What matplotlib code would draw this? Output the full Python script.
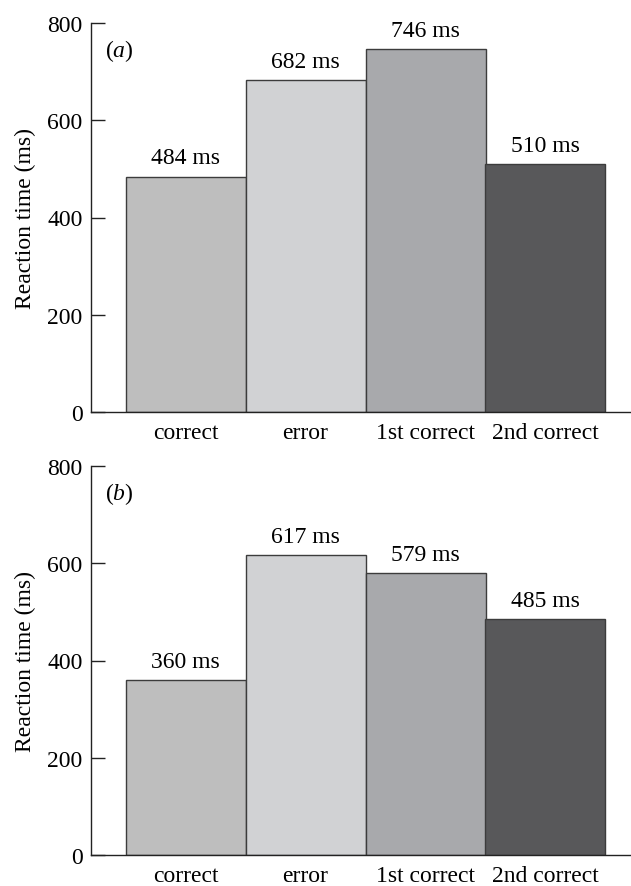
import matplotlib
matplotlib.use("Agg")
import matplotlib.pyplot as plt

conditions = ["correct", "error", "1st correct", "2nd correct"]
rt_a = [484, 682, 746, 510]
rt_b = [360, 617, 579, 485]
panel_tags = ["a", "b"]
yticks = [0, 200, 400, 600, 800]

bar_colors = ["#bebebe", "#d1d2d4", "#a8a9ac", "#58585a"]
edge_color = "#3c3c3c"

plt.rcParams["font.family"] = ["Liberation Serif", "DejaVu Serif"]
plt.rcParams["mathtext.fontset"] = "custom"
plt.rcParams["mathtext.it"] = "Liberation Serif:italic"
plt.rcParams["mathtext.rm"] = "Liberation Serif"

W, H = 631, 887
fig = plt.figure(figsize=(W / 100, H / 100), dpi=100)

# axes boxes in pixel coordinates: (left, top, right, bottom)
boxes = [(91, 24, 632, 413), (91, 467, 632, 856)]
fs = 17

for box, values, tag in zip(boxes, [rt_a, rt_b], panel_tags):
    l, t, r, b = box
    ax = fig.add_axes([l / W, 1 - b / H, (r - l) / W, (b - t) / H])
    x = list(range(len(conditions)))
    bars = ax.bar(x, values, width=1.0, color=bar_colors,
                  edgecolor=edge_color, linewidth=1.0, zorder=2)
    ax.set_xlim(-0.7875, -0.7875 + (r - l) / 120)
    ax.set_ylim(0, 800)
    for s in ["top", "right"]:
        ax.spines[s].set_visible(False)
    for s in ["left", "bottom"]:
        ax.spines[s].set_linewidth(1.0)
        ax.spines[s].set_color("#222222")
    ax.set_yticks(yticks)
    ax.tick_params(axis="y", direction="in", length=10, width=1.0,
                   pad=6, labelsize=fs, color="#222222")
    ax.set_xticks(x)
    ax.set_xticklabels(conditions)
    ax.tick_params(axis="x", length=0, pad=7.5, labelsize=fs)
    ax.set_ylabel("Reaction time (ms)", fontsize=fs, labelpad=8)
    for rect, v in zip(bars, values):
        ax.annotate(f"{v} ms", (rect.get_x() + rect.get_width() / 2, v),
                    xytext=(0, 6), textcoords="offset points",
                    ha="center", va="bottom", fontsize=fs)
    ax.text(0.025, 0.965, f"($\\mathit{{{tag}}}$)", transform=ax.transAxes,
            ha="left", va="top", fontsize=fs)

fig.savefig("out.png", dpi=100)
